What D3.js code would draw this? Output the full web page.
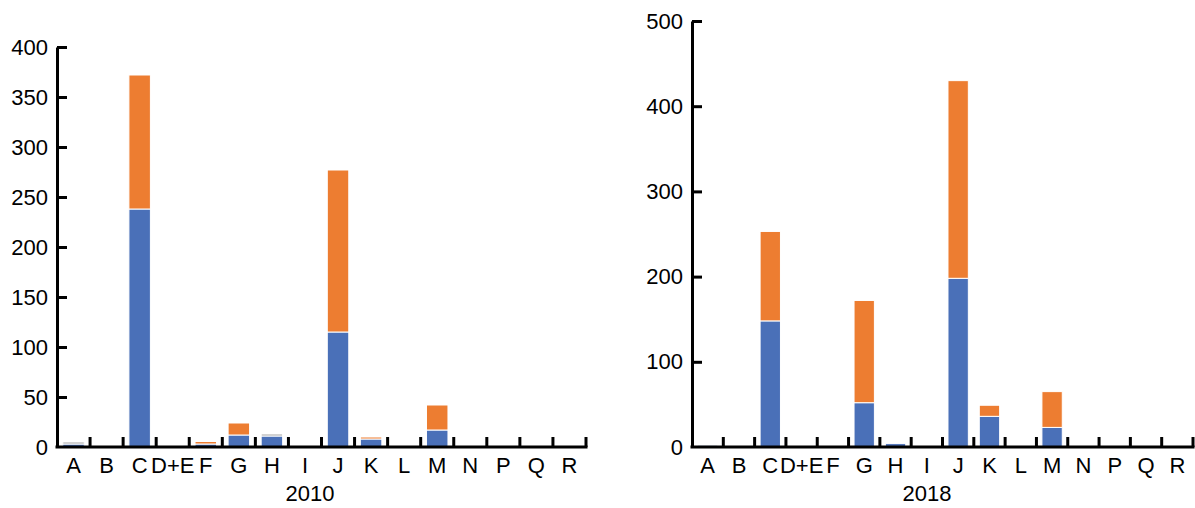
<!DOCTYPE html>
<html>
<head>
<meta charset="utf-8">
<script src="https://cdn.jsdelivr.net/npm/d3@7"></script>
<style>
  body { margin: 0; background: #fff; }
  svg { font-family: "Liberation Sans", Arial, sans-serif; }
</style>
</head>
<body>
<svg id="chart" width="1195" height="508"></svg>
<script>
// categories shared by both panels
var categories = ["A", "B", "C", "D+E", "F", "G", "H", "I", "J", "K", "L", "M", "N", "P", "Q", "R"];

// 2010 panel
var blue2010   = [3, 0, 238, 0, 3, 12, 11, 0, 115, 8, 0, 17, 0, 0, 0, 0];
var orange2010 = [0, 0, 134, 1.5, 2.5, 12, 0, 0, 162, 2, 0, 25, 0, 0, 0, 0];
var gray2010   = [2, 0, 0, 0, 0, 0, 2, 0, 0, 0, 0, 0, 0, 0, 0, 0];
var ticks2010  = [0, 50, 100, 150, 200, 250, 300, 350, 400];

// 2018 panel
var blue2018   = [2, 0, 148, 0, 0, 52, 4, 0, 198, 36, 0, 23, 0, 0, 0, 0];
var orange2018 = [0, 0, 105, 0, 0, 120, 0, 0, 232, 13, 0, 42, 0, 0, 0, 0];
var gray2018   = [0, 0, 0, 0, 0, 0, 0, 0, 0, 0, 0, 0, 0, 0, 0, 0];
var ticks2018  = [0, 100, 200, 300, 400, 500];

var colors = ["#4a70b8", "#ed7d31", "#a5a5a5"];

var svg = d3.select("#chart");

function drawPanel(opt) {
    var g = svg.append("g");

    var x = d3.scaleBand()
        .domain(categories)
        .range([opt.left, opt.right])
        .paddingInner(0.35)
        .paddingOuter(0.175);

    var y = d3.scaleLinear()
        .domain([0, opt.max])
        .range([opt.bottom, opt.top]);

    var rows = categories.map(function(c, i) {
        return {cat: c, blue: opt.blue[i], orange: opt.orange[i], gray: opt.gray[i]};
    });
    var stack = d3.stack().keys(["blue", "orange", "gray"]);
    var series = stack(rows);

    g.selectAll(".layer")
        .data(series)
      .enter().append("g")
        .attr("fill", function(d, i) { return colors[i]; })
      .selectAll("rect")
        .data(function(d) { return d.filter(function(p) { return p[1] - p[0] > 0; }); })
      .enter().append("rect")
        .attr("x", function(d) { return x(d.data.cat); })
        .attr("width", x.bandwidth())
        .attr("y", function(d) { return y(d[1]); })
        .attr("height", function(d) { return y(d[0]) - y(d[1]); })
        .attr("stroke", "#fff")
        .attr("stroke-width", 1);

    // y axis, ticks pointing inward
    var yAxis = d3.axisLeft(y)
        .tickValues(opt.ticks)
        .tickSizeInner(-10)
        .tickSizeOuter(0)
        .tickPadding(9);
    var ya = g.append("g")
        .attr("transform", "translate(" + opt.left + ",0)")
        .call(yAxis);
    ya.select(".domain").attr("stroke-width", 3);
    ya.selectAll(".tick line").attr("stroke-width", 3);
    ya.selectAll(".tick text").attr("font-size", 22).attr("fill", "#000");
    ya.selectAll(".tick").filter(function(d) { return d === 0; }).select("line").remove();

    // x axis, labels at band centres, ticks at band edges
    var xAxis = d3.axisBottom(x).tickSize(0).tickPadding(10);
    var xa = g.append("g")
        .attr("transform", "translate(0," + opt.bottom + ")")
        .call(xAxis);
    xa.select(".domain").remove();
    xa.selectAll(".tick text").attr("font-size", 22).attr("fill", "#000");

    var step = x.step();
    var edges = categories.map(function(c) { return x(c) - x.paddingInner() * step / 2 + step; });
    g.selectAll(".xtick")
        .data(edges)
      .enter().append("line")
        .attr("x1", function(d) { return d; })
        .attr("x2", function(d) { return d; })
        .attr("y1", opt.bottom)
        .attr("y2", opt.bottom - 10)
        .attr("stroke", "#000")
        .attr("stroke-width", 3);

    g.append("line")
        .attr("x1", opt.left - 1.5)
        .attr("x2", opt.right + 1.5)
        .attr("y1", opt.bottom)
        .attr("y2", opt.bottom)
        .attr("stroke", "#000")
        .attr("stroke-width", 3);

    g.append("text")
        .attr("x", opt.titleX)
        .attr("y", 501)
        .attr("text-anchor", "middle")
        .attr("font-size", 22)
        .text(opt.title);
}

drawPanel({left: 57, right: 586, top: 47, bottom: 447, max: 400,
    blue: blue2010, orange: orange2010, gray: gray2010, ticks: ticks2010,
    title: "2010", titleX: 310});

drawPanel({left: 692, right: 1193, top: 21, bottom: 447, max: 500,
    blue: blue2018, orange: orange2018, gray: gray2018, ticks: ticks2018,
    title: "2018", titleX: 927});
</script>
</body>
</html>
